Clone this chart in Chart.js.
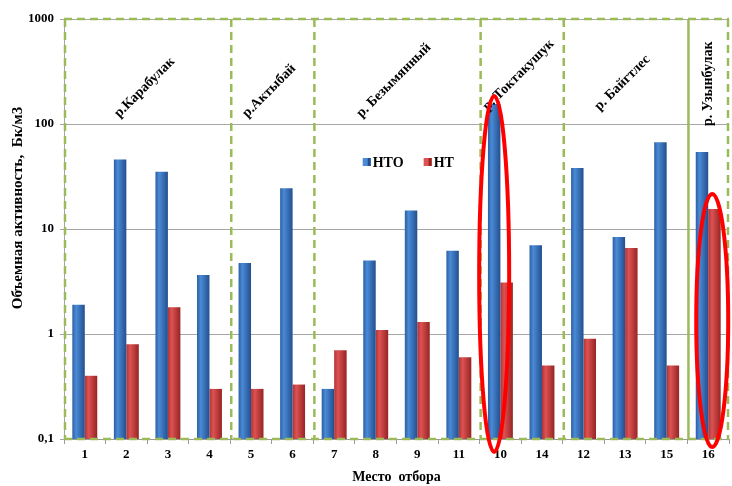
<!DOCTYPE html>
<html>
<head>
<meta charset="utf-8">
<script src="https://cdn.jsdelivr.net/npm/chart.js@4/dist/chart.umd.min.js"></script>
<style>
  body { margin: 0; background: #fff; }
  canvas { display: block; }
</style>
</head>
<body>
<canvas id="chart" width="732" height="486"></canvas>
<script>
// sampling places (x axis order as in the figure)
const places = ["1", "2", "3", "4", "5", "6", "7", "8", "9", "11", "10", "14", "12", "13", "15", "16"];
const hto = [1.9, 46, 35, 3.65, 4.75, 24.5, 0.3, 5, 15, 6.2, 155, 7, 38, 8.4, 67, 54];
const ht = [0.4, 0.8, 1.8, 0.3, 0.3, 0.33, 0.7, 1.09, 1.3, 0.6, 3.1, 0.5, 0.9, 6.6, 0.5, 15.5];

// river groups: name and how many places belong to it
const rivers = ["р.Карабулак", "р.Актыбай", "р. Безымянный", "р. Токтакушук", "р. Байгтлес", "р. Узынбулак"];
const riverSizes = [4, 2, 4, 2, 3, 1];

const yTicks = [0.1, 1, 10, 100, 1000];
const yTickLabels = ["0,1", "1", "10", "100", "1000"];

const FONT = "'Liberation Serif', 'Times New Roman', serif";
const CAT_PCT = 0.6;

function barGradient(c, stops) {
    const chart = c.chart;
    const area = chart.chartArea;
    if (!area || !chart.scales.x) return stops[1];
    const xs = chart.scales.x;
    const gw = (xs.width / places.length) * CAT_PCT;
    const center = xs.getPixelForValue(c.dataIndex);
    const left = c.datasetIndex === 0 ? center - gw / 2 : center;
    const g = chart.ctx.createLinearGradient(left, 0, left + gw / 2, 0);
    g.addColorStop(0, stops[0]);
    g.addColorStop(0.3, stops[1]);
    g.addColorStop(1, stops[2]);
    return g;
}
const blueStops = ["#2c5fa3", "#4a8ad6", "#234f8e"];
const redStops = ["#b33232", "#dd5252", "#962424"];

const decor = {
    id: "decor",
    afterDatasetsDraw(chart) {
        const ctx = chart.ctx;
        const a = chart.chartArea;
        const xs = chart.scales.x;
        const ys = chart.scales.y;
        const step = xs.width / places.length;

        // green group frames
        ctx.save();
        ctx.strokeStyle = "#9bbb59";
        ctx.lineWidth = 2.5;
        ctx.setLineDash([8, 5]);
        ctx.beginPath();
        ctx.moveTo(a.left, a.top); ctx.lineTo(a.right, a.top);
        ctx.moveTo(a.left, a.bottom); ctx.lineTo(a.right, a.bottom);
        let idx = 0;
        const bounds = [0];
        riverSizes.forEach(n => { idx += n; bounds.push(idx); });
        bounds.forEach((b, i) => {
            if (i === bounds.length - 2) return;
            const x = Math.min(a.left + b * step + 1, a.right - 1);
            ctx.moveTo(x, a.top); ctx.lineTo(x, a.bottom);
        });
        ctx.stroke();
        ctx.setLineDash([]);
        const xs5 = a.left + bounds[bounds.length - 2] * step + 1;
        ctx.beginPath();
        ctx.moveTo(xs5, a.top); ctx.lineTo(xs5, a.bottom);
        ctx.stroke();
        ctx.restore();

        // river names
        ctx.save();
        ctx.fillStyle = "#000";
        ctx.font = "bold 14px " + FONT;
        ctx.textBaseline = "alphabetic";
        ctx.textAlign = "left";
        const baseY = ys.getPixelForValue(100) - 6;
        rivers.forEach((name, i) => {
            const cx = a.left + (bounds[i] + bounds[i + 1]) / 2 * step;
            const w = ctx.measureText(name).width;
            ctx.save();
            if (i === rivers.length - 1) {
                ctx.translate(cx + 4, ys.getPixelForValue(100) + 2);
                ctx.rotate(-Math.PI / 2);
            } else {
                ctx.translate(cx - w * 0.3536, baseY - (i >= 3 ? 7 : 0));
                ctx.rotate(-Math.PI / 4);
            }
            ctx.fillText(name, 0, 0);
            ctx.restore();
        });
        ctx.restore();

        // legend
        ctx.save();
        const ly = ys.getPixelForValue(100) + 38;
        let lx = xs.getPixelForValue(7) - 13;
        ctx.font = "bold 14px " + FONT;
        ctx.textBaseline = "middle";
        [["НТО", blueStops], ["НТ", redStops]].forEach(([label, stops]) => {
            ctx.fillStyle = stops[1];
            ctx.fillRect(lx, ly - 4, 8, 8);
            ctx.fillStyle = stops[2];
            ctx.fillRect(lx + 5, ly - 4, 3, 8);
            ctx.fillStyle = "#000";
            ctx.fillText(label, lx + 10, ly + 1);
            lx += 10 + ctx.measureText(label).width + 20;
        });
        ctx.restore();

        // red highlight ellipses
        ctx.save();
        ctx.strokeStyle = "#ff0000";
        ctx.lineWidth = 4;
        const gw = step * CAT_PCT;
        const e1x = xs.getPixelForValue(10) - gw / 4;
        const e1top = ys.getPixelForValue(hto[10]) - 8;
        const e1bot = a.bottom + 13;
        ctx.beginPath();
        ctx.ellipse(e1x, (e1top + e1bot) / 2, 15, (e1bot - e1top) / 2, 0, 0, Math.PI * 2);
        ctx.stroke();
        const e2x = xs.getPixelForValue(15) + 4;
        const e2top = ys.getPixelForValue(ht[15]) - 15;
        const e2bot = a.bottom + 8;
        ctx.beginPath();
        ctx.ellipse(e2x, (e2top + e2bot) / 2, 16, (e2bot - e2top) / 2, 0, 0, Math.PI * 2);
        ctx.stroke();
        ctx.restore();

        // y axis title
        ctx.save();
        ctx.fillStyle = "#000";
        ctx.font = "bold 15px " + FONT;
        ctx.textAlign = "center";
        ctx.textBaseline = "middle";
        ctx.translate(18, (a.top + a.bottom) / 2 - 21);
        ctx.rotate(-Math.PI / 2);
        ctx.fillText("Объемная активность,  Бк/м3", 0, 0);
        ctx.restore();
    }
};

new Chart(document.getElementById("chart"), {
    type: "bar",
    data: {
        labels: places,
        datasets: [
            { label: "НТО", data: hto, backgroundColor: c => barGradient(c, blueStops) },
            { label: "НТ", data: ht, backgroundColor: c => barGradient(c, redStops) }
        ]
    },
    options: {
        responsive: false,
        animation: false,
        devicePixelRatio: 1,
        layout: { padding: { top: 19, right: 3, left: 0, bottom: 0 } },
        datasets: { bar: { categoryPercentage: CAT_PCT, barPercentage: 1 } },
        plugins: { legend: { display: false }, tooltip: { enabled: false } },
        scales: {
            x: {
                grid: { drawOnChartArea: false, tickLength: 5, color: "#9a9a9a", offset: true },
                border: { color: "#9a9a9a" },
                ticks: { color: "#000", font: { family: FONT, size: 13, weight: "bold" }, padding: 3 },
                title: {
                    display: true, text: "Место  отбора", color: "#000",
                    font: { family: FONT, size: 14, weight: "bold" }, padding: { top: 3, bottom: 0 }
                },
                afterFit: s => { s.height = 47; }
            },
            y: {
                type: "logarithmic",
                min: 0.1,
                max: 1000,
                grid: { color: "#a6a6a6", tickLength: 4 },
                border: { color: "#a6a6a6" },
                afterBuildTicks: s => { s.ticks = yTicks.map(v => ({ value: v })); },
                ticks: {
                    color: "#000",
                    font: { family: FONT, size: 13, weight: "bold" },
                    padding: 6,
                    callback: (v, i) => yTickLabels[i]
                },
                afterFit: s => { s.width = 64; }
            }
        }
    },
    plugins: [decor]
});
</script>
</body>
</html>
